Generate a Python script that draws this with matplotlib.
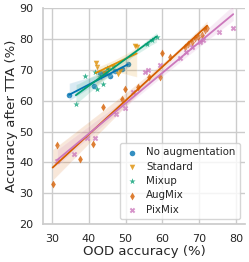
import matplotlib
matplotlib.use("Agg")
import matplotlib.pyplot as plt
import numpy as np
import seaborn as sns

# ── Data ─────────────────────────────────────────────────────────────────────
noaug_x = [34.7, 41.5, 43.0, 44.5, 45.8, 47.1, 48.9, 50.6]
noaug_y = [61.8, 64.9, 68.9, 69.0, 67.9, 69.6, 70.4, 71.8]

standard_x = [41.9, 42.1, 44.0, 45.3, 46.5, 48.0, 48.5, 52.6, 53.0]
standard_y = [72.2, 70.9, 69.0, 70.0, 71.0, 68.8, 69.8, 77.7, 77.5]

mixup_x = [36.5, 39.0, 41.7, 42.1, 43.0, 43.9, 45.0, 55.7, 57.1, 58.4]
mixup_y = [58.9, 68.2, 69.3, 63.8, 67.7, 65.5, 70.5, 78.6, 79.7, 80.8]

augmix_x = [30.2, 31.4, 37.6, 41.2, 43.8, 48.9, 49.8, 53.4, 56.3, 59.3,
            60.0, 62.0, 66.1, 67.0, 67.9, 68.8, 69.7, 70.6, 71.5, 72.1]
augmix_y = [33.1, 45.5, 41.1, 46.0, 58.0, 60.5, 63.8, 64.5, 67.6, 67.8,
            75.6, 74.3, 77.5, 78.3, 79.2, 80.3, 80.8, 81.3, 83.0, 83.7]

pixmix_x = [31.4, 35.9, 39.4, 41.7, 47.5, 49.8, 52.1, 55.2, 56.1, 59.3,
            64.7, 66.5, 67.9, 70.1, 71.0, 75.4, 79.2]
pixmix_y = [40.4, 42.8, 48.0, 47.8, 55.7, 57.5, 63.0, 69.4, 70.0, 71.6,
            73.8, 75.9, 77.5, 79.2, 79.7, 82.4, 83.7]

labels = ["No augmentation", "Standard", "Mixup", "AugMix", "PixMix"]
markers = ["o", "v", "*", "d", "X"]

# ── Plot ─────────────────────────────────────────────────────────────────────
sns.set_theme(style="whitegrid")
plt.rcParams["font.family"] = ["DejaVu Sans"]
palette = sns.color_palette("colorblind")

fig, ax = plt.subplots(figsize=(2.49, 2.62), dpi=100)
fig.subplots_adjust(left=0.173, right=0.984, bottom=0.145, top=0.968)

series = [(noaug_x, noaug_y), (standard_x, standard_y), (mixup_x, mixup_y),
          (augmix_x, augmix_y), (pixmix_x, pixmix_y)]

for (xs, ys), lab, mk, col in zip(series, labels, markers, palette):
    sns.regplot(x=np.array(xs), y=np.array(ys), ax=ax, color=col, marker=mk,
                label=lab,
                scatter_kws={"s": 16 if mk != "*" else 22, "linewidths": 0},
                line_kws={"linewidth": 1.3}, truncate=True)

ax.set_xlim(27.6, 82.4)
ax.set_ylim(20, 90)
ax.set_xticks([30, 40, 50, 60, 70, 80])
ax.set_yticks([20, 30, 40, 50, 60, 70, 80, 90])
ax.tick_params(labelsize=8, pad=1)
ax.set_xlabel("OOD accuracy (%)", fontsize=9.5, labelpad=1)
ax.set_ylabel("Accuracy after TTA (%)", fontsize=9.5, labelpad=1)
sns.despine(ax=ax)

ax.legend(loc="lower right", fontsize=7.4, handletextpad=0.6,
          borderpad=0.4, labelspacing=0.42, handlelength=1.6)

fig.savefig("out.png", dpi=100)
